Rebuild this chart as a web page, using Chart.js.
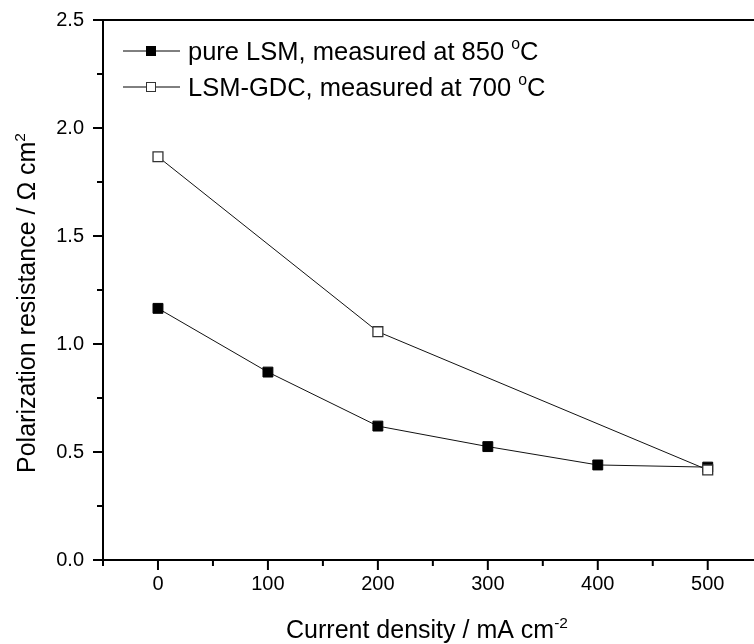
<!DOCTYPE html>
<html>
<head>
<meta charset="utf-8">
<script src="https://cdn.jsdelivr.net/npm/chart.js@4"></script>
<style>
  html, body { margin: 0; padding: 0; background: #fff; overflow: hidden; }
  canvas { display: block; }
</style>
</head>
<body>
<canvas id="polChart" width="771" height="644"></canvas>
<script>
// values
const lsmDensity = [0, 100, 200, 300, 400, 500];
const lsmResistance = [1.165, 0.87, 0.62, 0.525, 0.44, 0.43];
const gdcDensity = [0, 200, 500];
const gdcResistance = [1.867, 1.057, 0.417];
const seriesNames = ['pure LSM, measured at 850 ', 'LSM-GDC, measured at 700 '];
const xTickLabels = [0, 100, 200, 300, 400, 500];
const yTickLabels = [0, 0.5, 1, 1.5, 2, 2.5];

const FONT = '"Liberation Sans", Arial, Helvetica, sans-serif';

function toPoints(xs, ys) {
    return xs.map((x, i) => ({ x: x, y: ys[i] }));
}

// text with small raised parts (superscripts)
function richWidth(ctx, parts, size) {
    let w = 0;
    parts.forEach(p => {
        ctx.font = (p.sup ? size * 0.62 : size) + 'px ' + FONT;
        w += ctx.measureText(p.t).width;
    });
    return w;
}
function drawRich(ctx, parts, x, y, size) {
    ctx.textBaseline = 'alphabetic';
    ctx.textAlign = 'left';
    parts.forEach(p => {
        ctx.font = (p.sup ? size * 0.62 : size) + 'px ' + FONT;
        ctx.fillText(p.t, x, p.sup ? y - size * 0.42 : y);
        x += ctx.measureText(p.t).width;
    });
}

const framePlugin = {
    id: 'frame',
    afterDraw(chart) {
        const ctx = chart.ctx;
        const a = chart.chartArea;
        const xs = chart.scales.x;
        const ys = chart.scales.y;
        ctx.save();
        ctx.strokeStyle = '#000';
        ctx.lineWidth = 2;
        ctx.strokeRect(a.left, a.top, a.right - a.left, a.bottom - a.top);

        // outward ticks, major longer than minor
        ctx.beginPath();
        xs.ticks.forEach(t => {
            const px = xs.getPixelForValue(t.value);
            const len = (t.value % 100 === 0) ? 10 : 6;
            ctx.moveTo(px, a.bottom);
            ctx.lineTo(px, a.bottom + len);
        });
        ys.ticks.forEach(t => {
            const py = ys.getPixelForValue(t.value);
            const len = (Math.abs(t.value * 2 - Math.round(t.value * 2)) < 1e-6) ? 10 : 6;
            ctx.moveTo(a.left, py);
            ctx.lineTo(a.left - len, py);
        });
        ctx.stroke();

        // axis titles
        ctx.fillStyle = '#000';
        const xt = [{ t: 'Current density / mA cm' }, { t: '-2', sup: true }];
        const xw = richWidth(ctx, xt, 25);
        drawRich(ctx, xt, 427 - xw / 2, 638, 25);

        const yt = [{ t: 'Polarization resistance / \u03A9 cm' }, { t: '2', sup: true }];
        const yw = richWidth(ctx, yt, 25);
        ctx.save();
        ctx.translate(35, 303);
        ctx.rotate(-Math.PI / 2);
        drawRich(ctx, yt, -yw / 2, 0, 25);
        ctx.restore();

        // legend inside the plot
        chart.data.datasets.forEach((ds, i) => {
            const ly = 51 + i * 36;
            ctx.beginPath();
            ctx.lineWidth = 1;
            ctx.strokeStyle = '#000';
            ctx.moveTo(123, ly);
            ctx.lineTo(180, ly);
            ctx.stroke();
            ctx.fillStyle = ds.pointBackgroundColor;
            ctx.fillRect(146, ly - 5, 10, 10);
            ctx.strokeStyle = ds.pointBorderColor;
            ctx.strokeRect(146.5, ly - 4.5, 9, 9);
            ctx.fillStyle = '#000';
            drawRich(ctx, [{ t: ds.label }, { t: 'o', sup: true }, { t: 'C' }], 188, ly + 9, 25.5);
        });
        ctx.restore();
    }
};

new Chart(document.getElementById('polChart'), {
    type: 'line',
    data: {
        datasets: [
            {
                label: seriesNames[0],
                data: toPoints(lsmDensity, lsmResistance),
                borderColor: '#111',
                borderWidth: 1,
                pointStyle: 'rect',
                pointRadius: 7,
                pointBackgroundColor: '#000',
                pointBorderColor: '#000',
                pointBorderWidth: 1,
                order: 1
            },
            {
                label: seriesNames[1],
                data: toPoints(gdcDensity, gdcResistance),
                borderColor: '#111',
                borderWidth: 1,
                pointStyle: 'rect',
                pointRadius: 7,
                pointBackgroundColor: '#fff',
                pointBorderColor: '#333',
                pointBorderWidth: 1.3,
                order: 0
            }
        ]
    },
    options: {
        responsive: false,
        animation: false,
        devicePixelRatio: 1,
        layout: { padding: { top: 20, right: 5, left: 0, bottom: 0 } },
        plugins: {
            legend: { display: false },
            tooltip: { enabled: false }
        },
        scales: {
            x: {
                type: 'linear',
                min: -50,
                max: 550,
                afterFit: s => {
                    s.height = 84;
                    s.paddingLeft = 0;
                    s.paddingRight = 0;
                },
                grid: { display: false, drawTicks: false },
                border: { display: false },
                ticks: {
                    stepSize: 50,
                    autoSkip: false,
                    maxRotation: 0,
                    padding: 12,
                    color: '#000',
                    font: { family: FONT, size: 20 },
                    callback: v => xTickLabels.includes(v) ? String(v) : ''
                }
            },
            y: {
                min: 0,
                max: 2.5,
                afterFit: s => {
                    s.width = 103;
                    s.paddingTop = 0;
                    s.paddingBottom = 0;
                },
                grid: { display: false, drawTicks: false },
                border: { display: false },
                ticks: {
                    stepSize: 0.25,
                    autoSkip: false,
                    padding: 19,
                    color: '#000',
                    font: { family: FONT, size: 20 },
                    callback: v => yTickLabels.some(t => Math.abs(t - v) < 1e-6) ? v.toFixed(1) : ''
                }
            }
        }
    },
    plugins: [framePlugin]
});
</script>
</body>
</html>
